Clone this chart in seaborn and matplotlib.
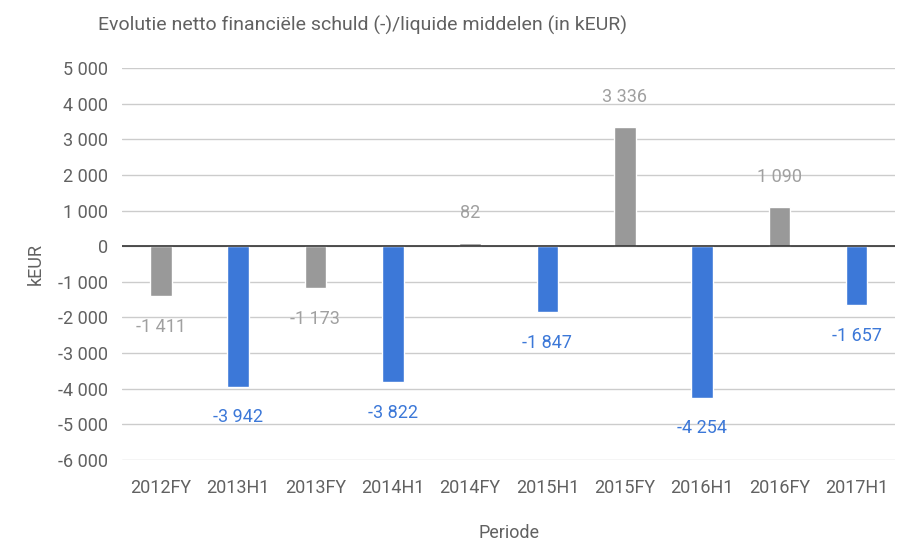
import matplotlib
matplotlib.use("Agg")
import matplotlib.pyplot as plt
import matplotlib.ticker as mticker
import seaborn as sns
import pandas as pd

# data
periods = ["2012FY", "2013H1", "2013FY", "2014H1", "2014FY",
           "2015H1", "2015FY", "2016H1", "2016FY", "2017H1"]
values = [-1411, -3942, -1173, -3822, 82, -1847, 3336, -4254, 1090, -1657]

GRAY = "#999999"
BLUE = "#3c78d8"
LABEL_GRAY = "#a0a0a0"
TEXT = "#616161"
colors = [GRAY if p.endswith("FY") else BLUE for p in periods]
label_colors = [LABEL_GRAY if p.endswith("FY") else BLUE for p in periods]

df = pd.DataFrame({"Periode": periods, "kEUR": values})

sns.set_style("white")
plt.rcParams["font.family"] = ["Roboto", "DejaVu Sans"]

fig = plt.figure(figsize=(8.98, 5.41), dpi=100)
ax = fig.add_axes([0.136, 0.150, 0.861, 0.724])

sns.barplot(data=df, x="Periode", y="kEUR", hue="Periode", palette=colors,
            saturation=1, width=0.28, legend=False, ax=ax, zorder=3)

# assen en raster
ax.set_ylim(-6000, 5000)
ax.set_xlim(-0.5, len(periods) - 0.5)
ax.yaxis.set_major_locator(mticker.MultipleLocator(1000))
ax.yaxis.set_major_formatter(mticker.FuncFormatter(lambda v, p: f"{int(v):,}".replace(",", " ")))
ax.grid(axis="y", color="#cccccc", linewidth=1, zorder=0)
ax.axhline(0, color="#333333", linewidth=1.2, zorder=4)
sns.despine(ax=ax, left=True, bottom=True)
ax.tick_params(axis="both", length=0, labelsize=13, colors=TEXT)
ax.tick_params(axis="x", pad=14)
ax.tick_params(axis="y", pad=10)

ax.set_xlabel("Periode", fontsize=13, color=TEXT, va="center")
ax.xaxis.set_label_coords(0.5, -0.186)
ax.set_ylabel("kEUR", fontsize=13, color=TEXT, va="center")
ax.yaxis.set_label_coords(-0.112, 0.5)

# waardelabels
for i, (v, c) in enumerate(zip(values, label_colors)):
    off = 22 if v >= 0 else -22
    ax.annotate(f"{v:,}".replace(",", " "), (i, v), xytext=(0, off),
                textcoords="offset points", ha="center", va="center",
                fontsize=13, color=c, zorder=5)

fig.text(98 / 898, 1 - 25 / 541, "Evolutie netto financiële schuld (-)/liquide middelen (in kEUR)",
         fontsize=14, color=TEXT, ha="left", va="center")

plt.savefig("out.png", dpi=100)
